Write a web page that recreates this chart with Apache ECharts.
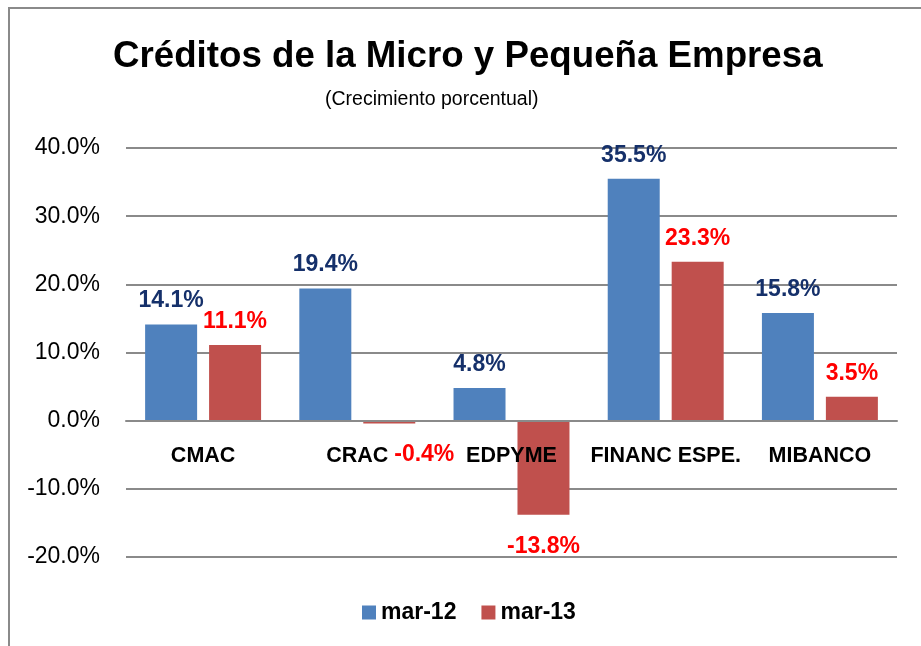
<!DOCTYPE html>
<html>
<head>
<meta charset="utf-8">
<script src="https://cdn.jsdelivr.net/npm/echarts@6/dist/echarts.min.js"></script>
<style>
  html, body { margin: 0; padding: 0; background: #fff; }
  #chart { width: 921px; height: 646px; }
</style>
</head>
<body>
<div id="chart"></div>
<script>
// datos del gráfico
const categorias = ['CMAC', 'CRAC', 'EDPYME', 'FINANC ESPE.', 'MIBANCO']
const mar12 = [14.1, 19.4, 4.8, 35.5, 15.8]
const mar13 = [11.1, -0.4, -13.8, 23.3, 3.5]
const series_names = ['mar-12', 'mar-13']
const yMin = -20
const yMax = 40
const yInterval = 10

const FONT = '"Liberation Sans", Arial, sans-serif'

// etiqueta encima o debajo según el signo
const buildData = (values, color) => values.map((v, i) => {
  const neg = v < 0
  const label = {
    position: neg ? 'bottom' : 'top',
    distance: neg ? 20 : 12,
    color: color
  }
  // -0.4% está desplazada a la derecha en el original
  if (neg && v > -1) label.offset = [35, 0]
  return { value: v, label: label }
})

const GRID_TOP = 148
const GRID_BOTTOM = 89
const PLOT_H = 646 - GRID_TOP - GRID_BOTTOM
// el eje de categorías va sobre la línea del cero
const zeroOffset = -PLOT_H * (0 - yMin) / (yMax - yMin)

const chart = echarts.init(document.getElementById('chart'))

const option = {
  backgroundColor: '#fff',
  animation: false,
  textStyle: { fontFamily: FONT },
  title: [
    {
      text: 'Créditos de la Micro y Pequeña Empresa',
      left: 108, top: 33,
      textStyle: { fontSize: 36.7, fontWeight: 'bold', color: '#000', fontFamily: FONT }
    },
    {
      text: '(Crecimiento porcentual)',
      left: 320, top: 85,
      textStyle: { fontSize: 19.5, fontWeight: 'normal', color: '#000', fontFamily: FONT }
    }
  ],
  graphic: [
    {
      type: 'polyline',
      shape: { points: [[9, 646], [9, 8], [921, 8]] },
      style: { stroke: '#8a8a8a', lineWidth: 2, fill: null }
    }
  ],
  legend: {
    data: series_names,
    left: 357, top: 596,
    icon: 'rect',
    itemWidth: 14, itemHeight: 14,
    itemGap: 25,
    textStyle: { fontSize: 23, fontWeight: 'bold', color: '#000', fontFamily: FONT }
  },
  grid: { left: 126, right: 24, top: GRID_TOP, bottom: GRID_BOTTOM },
  xAxis: {
    type: 'category',
    data: categorias,
    offset: zeroOffset,
    z: 5, // etiquetas y línea del cero por encima de las barras
    axisLine: { onZero: false, lineStyle: { color: '#8a8a8a', width: 2 } },
    axisTick: { show: false },
    axisLabel: { interval: 0, margin: 24, fontSize: 21.5, fontWeight: 'bold', color: '#000', fontFamily: FONT }
  },
  yAxis: {
    type: 'value',
    min: yMin, max: yMax, interval: yInterval,
    axisLine: { show: false },
    axisTick: { show: false },
    axisLabel: {
      margin: 26, fontSize: 23, color: '#000', fontFamily: FONT,
      formatter: (v) => v.toFixed(1) + '%'
    },
    splitLine: { lineStyle: { color: '#8a8a8a', width: 2 } }
  },
  series: [
    {
      name: 'mar-12', type: 'bar',
      barWidth: 52, barGap: '23%',
      itemStyle: { color: '#4F81BD' },
      label: {
        show: true, fontSize: 23, fontWeight: 'bold', fontFamily: FONT,
        formatter: (p) => p.value.toFixed(1) + '%'
      },
      data: buildData(mar12, '#15306A')
    },
    {
      name: 'mar-13', type: 'bar',
      barWidth: 52,
      itemStyle: { color: '#C0504D' },
      label: {
        show: true, fontSize: 23, fontWeight: 'bold', fontFamily: FONT,
        formatter: (p) => p.value.toFixed(1) + '%'
      },
      data: buildData(mar13, '#FF0000')
    }
  ]
}

chart.setOption(option)
</script>
</body>
</html>
